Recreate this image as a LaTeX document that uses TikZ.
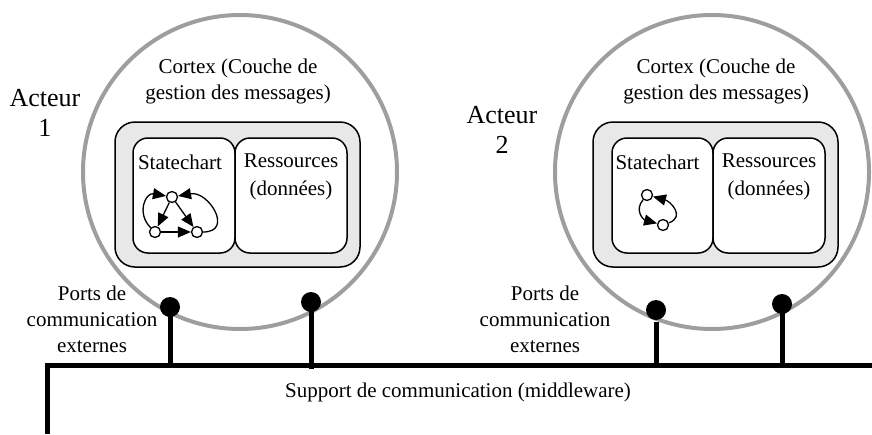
\documentclass[tikz,border=0pt]{standalone}
\usepackage{fontspec}
\setmainfont{Liberation Serif}
\usepackage{tikz}
\usetikzlibrary{arrows.meta,calc,positioning}
\definecolor{rimgray}{RGB}{158,158,158}
\definecolor{cortexgray}{RGB}{232,232,232}

\begin{document}
\begin{tikzpicture}[x=1pt,y=-1pt,
  acteur/.style={circle,draw=rimgray,line width=4pt,minimum size=314pt,inner sep=0pt},
  cortex/.style={draw,line width=1.5pt,fill=cortexgray,rounded corners=20pt,minimum width=245pt,minimum height=145pt,inner sep=0pt},
  part/.style={draw,line width=1.5pt,fill=white,rounded corners=15pt,minimum height=115pt,inner sep=0pt},
  port/.style={circle,fill=black,minimum size=20pt,inner sep=0pt},
  wire/.style={line width=5pt},
  txt/.style={font=\fontsize{21}{26}\selectfont,align=center,inner sep=0pt},
  big/.style={font=\fontsize{26}{30}\selectfont,align=center,inner sep=0pt},
  state/.style={circle,draw,line width=1.3pt,fill=white,minimum size=11pt,inner sep=0pt},
  sarrow/.style={line width=1.3pt,-{Triangle[length=13pt,width=11pt]}}]
  \useasboundingbox (0,0) rectangle (872,434);

  % actor 1
  \node[acteur] (a1) at (240,172) {};
  \node[txt] (cx1) at (238,81) {Cortex (Couche de\\gestion des messages)};
  \node[cortex] (c1) at (237.5,194.5) {};
  \node[part,minimum width=102pt] (sc1) at (184,195.5) {};
  \node[part,minimum width=112pt] (rs1) at (291,195.5) {};
  \node[txt] (sct1) at ($(sc1.north)+(-4,25)$) {Statechart};
  \node[txt,font=\fontsize{21}{28}\selectfont] (rst1) at ($(rs1.north)+(0,40)$) {Ressources\\(données)};
  \node[big] (lab1) at (45,113) {Acteur\\1};
  % small statechart 1
  \node[state] (s1t) at (172,197) {};
  \node[state] (s1l) at (155,232) {};
  \node[state] (s1r) at (197,232) {};
  \draw[sarrow] (s1l) -- (s1r);
  \draw[sarrow] (s1t) -- (s1l);
  \draw[sarrow] (s1t) -- (s1r);
  \draw[sarrow] (s1l) to[out=135,in=170,looseness=1.5] (s1t);
  \draw[sarrow] (s1r) to[out=0,in=10,looseness=1.8] (s1t);

  % actor 2
  \node[acteur] (a2) at (712,172) {};
  \node[txt] (cx2) at (716,81) {Cortex (Couche de\\gestion des messages)};
  \node[cortex] (c2) at (715.5,194.5) {};
  \node[part,minimum width=101pt] (sc2) at (662.5,195.5) {};
  \node[part,minimum width=112pt] (rs2) at (769,195.5) {};
  \node[txt] (sct2) at ($(sc2.north)+(-5,25)$) {Statechart};
  \node[txt,font=\fontsize{21}{28}\selectfont] (rst2) at ($(rs2.north)+(0,40)$) {Ressources\\(données)};
  \node[big] (lab2) at (502,130) {Acteur\\2};
  % small statechart 2
  \node[state] (s2t) at (647,195) {};
  \node[state] (s2b) at (663,225) {};
  \draw[sarrow] (s2t) to[out=230,in=165,looseness=1.3] (s2b);
  \draw[sarrow] (s2b) to[out=20,in=-15,looseness=1.5] (s2t);

  % bus
  \coordinate (busL) at (47,434);
  \coordinate (busC) at (47,365);
  \coordinate (busR) at (872,365);
  \draw[wire,line join=miter] (busL) -- (busC) -- (busR);
  \node[txt] (mw) at (458,392) {Support de communication (middleware)};

  % ports
  \node[port] (p1a) at (170,307) {};
  \node[port] (p1b) at (311,302) {};
  \node[port] (p2a) at (656,310) {};
  \node[port] (p2b) at (782,304) {};
  \draw[wire] (p1a.center) -- (p1a.center |- busC);
  \draw[wire] (p1b.center) -- ([yshift=-4pt]p1b.center |- busC);
  \draw[wire] ([yshift=-2pt]p2a.south) -- ([yshift=-3pt]p2a.center |- busC);
  \draw[wire] (p2b.center) -- (p2b.center |- busC);
  \node[txt] (pt1) at (92,319) {Ports de\\communication\\externes};
  \node[txt] (pt2) at (545,319) {Ports de\\communication\\externes};
\end{tikzpicture}
\end{document}
